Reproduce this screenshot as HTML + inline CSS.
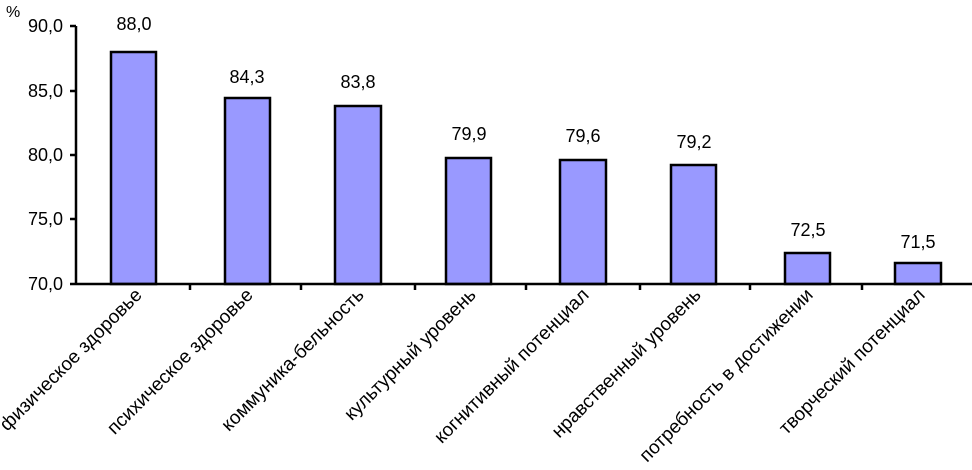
<!DOCTYPE html>
<html><head><meta charset="utf-8"><style>body{margin:0;background:#fff}svg{display:block}</style></head>
<body>
<svg width="972" height="470" xmlns="http://www.w3.org/2000/svg" font-family="Liberation Sans, Arial, sans-serif">
<text x="6" y="17" font-size="16">%</text>
<g font-size="18" text-anchor="end">
<text x="63" y="32">90,0</text>
<text x="63" y="97">85,0</text>
<text x="63" y="161">80,0</text>
<text x="63" y="225">75,0</text>
<text x="63" y="290">70,0</text>
</g>
<g stroke="#000" stroke-width="2.5" fill="#9999ff">
<rect x="111" y="52" width="45" height="232"/>
<rect x="225" y="98" width="45" height="186"/>
<rect x="335" y="106" width="46" height="178"/>
<rect x="446" y="158" width="45" height="126"/>
<rect x="560" y="160" width="46" height="124"/>
<rect x="671" y="165" width="45" height="119"/>
<rect x="785" y="253" width="45" height="31"/>
<rect x="895" y="263" width="46" height="21"/>
</g>
<g stroke="#000" stroke-width="2.5">
<line x1="76" y1="26" x2="76" y2="285"/>
<line x1="76" y1="284" x2="972" y2="284"/>
<line x1="70" y1="26" x2="76" y2="26"/><line x1="70" y1="91" x2="76" y2="91"/><line x1="70" y1="155" x2="76" y2="155"/><line x1="70" y1="219" x2="76" y2="219"/><line x1="70" y1="284" x2="76" y2="284"/>
<line x1="190" y1="284" x2="190" y2="290"/><line x1="301" y1="284" x2="301" y2="290"/><line x1="415" y1="284" x2="415" y2="290"/><line x1="526" y1="284" x2="526" y2="290"/><line x1="640" y1="284" x2="640" y2="290"/><line x1="750" y1="284" x2="750" y2="290"/><line x1="862" y1="284" x2="862" y2="290"/>
</g>
<g font-size="18" text-anchor="middle">
<text x="134" y="30">88,0</text>
<text x="247" y="83">84,3</text>
<text x="358" y="88">83,8</text>
<text x="469" y="140">79,9</text>
<text x="583" y="142">79,6</text>
<text x="694" y="148">79,2</text>
<text x="808" y="236">72,5</text>
<text x="918" y="248">71,5</text>
</g>
<g font-size="19" text-anchor="end">
<text transform="translate(143,296) rotate(-45)">физическое здоровье</text>
<text transform="translate(254,296) rotate(-45)">психическое здоровье</text>
<text transform="translate(365,296) rotate(-45)">коммуника-бельность</text>
<text transform="translate(477,296) rotate(-45)">культурный  уровень</text>
<text transform="translate(590,296) rotate(-45)">когнитивный потенциал</text>
<text transform="translate(702,296) rotate(-45)">нравственный уровень</text>
<text transform="translate(814,296) rotate(-45)">потребность в достижении</text>
<text transform="translate(926,296) rotate(-45)">творческий потенциал</text>
</g>
</svg>
</body></html>
